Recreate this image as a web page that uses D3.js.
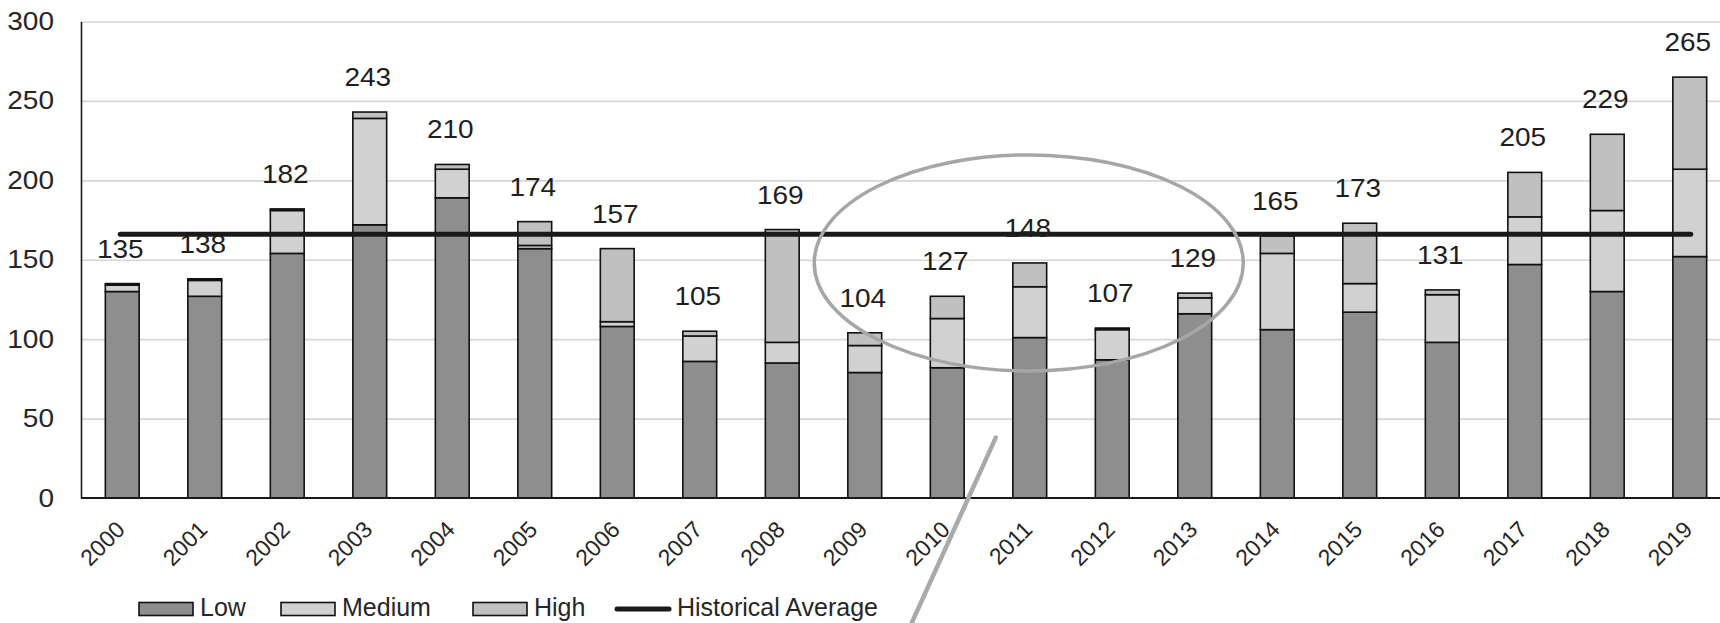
<!DOCTYPE html>
<html>
<head>
<meta charset="utf-8">
<script src="https://cdn.jsdelivr.net/npm/d3@7"></script>
<style>
  html, body { margin: 0; padding: 0; background: #fff; }
  svg { display: block; font-family: "Liberation Sans", Arial, sans-serif; }
</style>
</head>
<body>
<svg id="chart" width="1720" height="623"></svg>
<script>
// Yearly counts split by severity class
const years  = ["2000","2001","2002","2003","2004","2005","2006","2007","2008","2009",
                "2010","2011","2012","2013","2014","2015","2016","2017","2018","2019"];
const low    = [130,127,154,172,189,157,108, 86, 85, 79, 82,101, 87,116,106,117, 98,147,130,152];
const medium = [  4, 10, 27, 67, 18,  2,  3, 16, 13, 17, 31, 32, 19, 10, 48, 18, 30, 30, 51, 55];
const high   = [  1,  1,  1,  4,  3, 15, 46,  3, 71,  8, 14, 15,  1,  3, 11, 38,  3, 28, 48, 58];
const totals = [135,138,182,243,210,174,157,105,169,104,127,148,107,129,165,173,131,205,229,265];
const historicalAverage = 166;
const yTicks = [0, 50, 100, 150, 200, 250, 300];
const seriesNames = ["Low", "Medium", "High"];
const seriesColors = ["#8e8e8e", "#d1d1d1", "#c0c0c0"];

const svg = d3.select("#chart");
const W = 1720;
const numStretch = 1.12;   // numerals are set slightly wide

const x = d3.scaleBand().domain(years).range([81, 1731]).paddingInner(0.59).paddingOuter(0.295);
const y = d3.scaleLinear().domain([0, 300]).range([498, 21.5]);
const bw = x.bandwidth();
const cx = d => x(d) + bw / 2;

// gridlines
svg.append("g")
  .attr("transform", "translate(81,0)")
  .call(d3.axisLeft(y).tickValues(yTicks.filter(t => t > 0)).tickSize(-(W - 81)).tickFormat(""))
  .call(g => g.select(".domain").remove())
  .call(g => g.selectAll("line").attr("stroke", "#d6d6d6").attr("stroke-width", 1.6));

// y axis labels + axis line
svg.append("g")
  .attr("transform", "translate(81,0)")
  .call(d3.axisLeft(y).tickValues(yTicks).tickSize(0).tickPadding(27))
  .call(g => g.select(".domain").attr("stroke", "#1a1a1a").attr("stroke-width", 1.6))
  .call(g => g.selectAll("text")
    .attr("font-size", 25).attr("fill", "#262626")
    .attr("font-family", "'Liberation Sans', Arial, sans-serif")
    .attr("x", 0)
    .attr("transform", `translate(-27,0) scale(${numStretch},1)`));

// stacked data
const table = years.map((yr, i) => ({ year: yr, Low: low[i], Medium: medium[i], High: high[i] }));
const stacked = d3.stack().keys(seriesNames)(table);

svg.append("g").selectAll("g")
  .data(stacked)
  .join("g")
    .attr("fill", (d, i) => seriesColors[i])
  .selectAll("rect")
  .data(d => d)
  .join("rect")
    .attr("x", d => x(d.data.year))
    .attr("width", bw)
    .attr("y", d => y(d[1]))
    .attr("height", d => y(d[0]) - y(d[1]))
    .attr("stroke", "#111")
    .attr("stroke-width", 1.6);

// x axis
svg.append("g")
  .attr("transform", "translate(0,498)")
  .call(d3.axisBottom(x).tickSize(0))
  .call(g => g.select(".domain").attr("d", `M81,0H${W}`).attr("stroke", "#1a1a1a").attr("stroke-width", 1.8))
  .call(g => g.selectAll("text")
    .attr("font-size", 23).attr("fill", "#262626")
    .attr("font-family", "'Liberation Sans', Arial, sans-serif")
    .attr("x", 0).attr("y", 0).attr("dy", null)
    .attr("text-anchor", "end")
    .attr("transform", "translate(4,33) rotate(-45)"));

// historical average line
svg.append("line")
  .attr("x1", cx(years[0]) - 2)
  .attr("x2", cx(years[years.length - 1]) + 1)
  .attr("y1", y(historicalAverage))
  .attr("y2", y(historicalAverage))
  .attr("stroke", "#1a1a1a")
  .attr("stroke-width", 5)
  .attr("stroke-linecap", "round");

// total labels
svg.append("g").selectAll("text")
  .data(years)
  .join("text")
    .attr("transform", (d, i) => `translate(${cx(d) - 2},${y(totals[i]) - 26}) scale(${numStretch},1)`)
    .attr("text-anchor", "middle")
    .attr("font-size", 25)
    .attr("fill", "#1e1e1e")
    .text((d, i) => totals[i]);

// highlight ellipse and pointer stroke
const hl = "2011";
svg.append("ellipse")
  .attr("cx", cx(hl) - 1)
  .attr("cy", y(148))
  .attr("rx", x.step() * 2.6)
  .attr("ry", 108)
  .attr("fill", "none")
  .attr("stroke", "#a6a6a6")
  .attr("stroke-width", 3.5);

svg.append("line")
  .attr("x1", cx(hl) - 34)
  .attr("y1", y(38))
  .attr("x2", cx(hl) - 119)
  .attr("y2", 625)
  .attr("stroke", "#a9a9a9")
  .attr("stroke-width", 4.5)
  .attr("stroke-linecap", "round");

// legend
const legend = svg.append("g");
const swatchX = [139, 281, 473];
seriesNames.forEach((name, i) => {
  legend.append("rect")
    .attr("x", swatchX[i]).attr("y", 602.5)
    .attr("width", 54).attr("height", 13)
    .attr("fill", seriesColors[i])
    .attr("stroke", "#111").attr("stroke-width", 1.6);
  legend.append("text")
    .attr("x", swatchX[i] + 61).attr("y", 616)
    .attr("font-size", 25).attr("fill", "#262626")
    .text(name);
});
legend.append("line")
  .attr("x1", 617).attr("x2", 669)
  .attr("y1", 609).attr("y2", 609)
  .attr("stroke", "#1a1a1a").attr("stroke-width", 5)
  .attr("stroke-linecap", "round");
legend.append("text")
  .attr("x", 677).attr("y", 616)
  .attr("font-size", 25).attr("fill", "#262626")
  .text("Historical Average");
</script>
</body>
</html>
